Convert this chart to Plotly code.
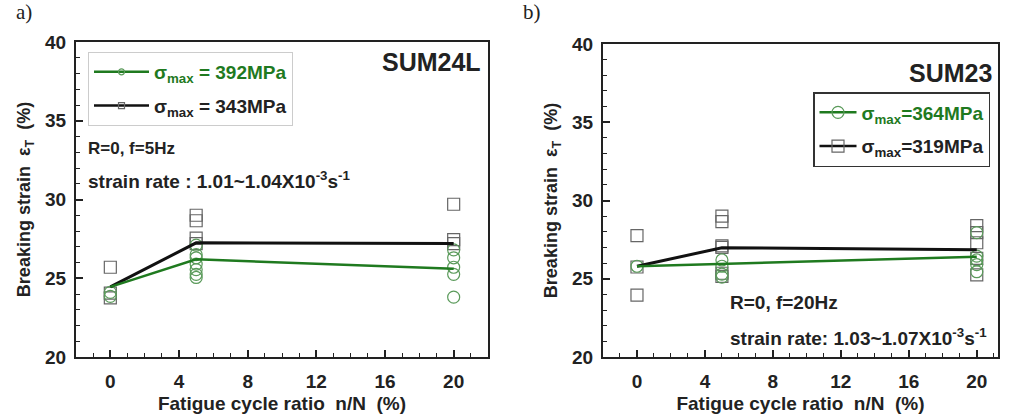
import plotly.graph_objects as go

# ---------------- data ----------------
x_levels = [0, 5, 20]

# panel a) SUM24L
a_mean_392 = [24.45, 26.2, 25.6]
a_mean_343 = [24.45, 27.25, 27.2]
a_c392_x = [0, 0, 5, 5, 5, 5, 5, 5, 5, 20, 20, 20, 20, 20]
a_c392_y = [24.1, 23.85, 27.1, 26.5, 26.3, 25.9, 25.55, 25.25, 25.05, 26.8, 26.3, 25.7, 25.25, 23.8]
a_s343_x = [0, 0, 0, 5, 5, 5, 5, 20, 20, 20]
a_s343_y = [25.7, 24.05, 23.75, 29.0, 28.65, 27.55, 27.2, 29.7, 27.45, 27.2]

# panel b) SUM23
b_mean_364 = [25.8, 25.95, 26.4]
b_mean_319 = [25.8, 26.98, 26.86]
b_c364_x = [0, 5, 5, 5, 5, 20, 20, 20, 20, 20]
b_c364_y = [25.8, 26.2, 25.8, 25.3, 25.1, 27.95, 26.45, 26.2, 25.9, 25.45]
b_s319_x = [0, 0, 0, 5, 5, 5, 5, 5, 5, 20, 20, 20, 20, 20]
b_s319_y = [27.75, 25.75, 23.95, 29.0, 28.65, 27.1, 27.0, 25.35, 25.15, 28.4, 27.95, 27.3, 26.3, 25.25]

x_ticks = [0, 4, 8, 12, 16, 20]
y_ticks = [20, 25, 30, 35, 40]

GREEN = "#1f7a1f"
GREEN_M = "#5a9a5a"
BLACK = "#111111"
GRAY_M = "#666666"
FONT = "Liberation Sans"
TXT = "#222222"

fig = go.Figure()

def add_panel(xa, ya, cx, cy, sx, sy, mg, mb, name_g, name_b, legend, leg_msize):
    fig.add_trace(go.Scatter(x=sx, y=sy, mode="markers", xaxis=xa, yaxis=ya, showlegend=False,
                             marker=dict(symbol="square-open", size=12, color=GRAY_M, line=dict(width=1.2))))
    fig.add_trace(go.Scatter(x=cx, y=cy, mode="markers", xaxis=xa, yaxis=ya, showlegend=False,
                             marker=dict(symbol="circle-open", size=12, color=GREEN_M, line=dict(width=1.2))))
    fig.add_trace(go.Scatter(x=x_levels, y=mb, mode="lines", xaxis=xa, yaxis=ya, showlegend=False,
                             line=dict(color=BLACK, width=3)))
    fig.add_trace(go.Scatter(x=x_levels, y=mg, mode="lines", xaxis=xa, yaxis=ya, showlegend=False,
                             line=dict(color=GREEN, width=2.5)))
    # legend entries
    fig.add_trace(go.Scatter(x=[None], y=[None], mode="lines+markers", xaxis=xa, yaxis=ya,
                             name=name_g, legend=legend, legendgroup=legend + "g",
                             line=dict(color=GREEN, width=2.5),
                             marker=dict(symbol="circle-open", size=leg_msize, color=GREEN_M, line=dict(width=1.2))))
    fig.add_trace(go.Scatter(x=[None], y=[None], mode="lines+markers", xaxis=xa, yaxis=ya,
                             name=name_b, legend=legend, legendgroup=legend + "b",
                             line=dict(color=BLACK, width=2.5),
                             marker=dict(symbol="square-open", size=leg_msize, color=GRAY_M, line=dict(width=1.2))))

add_panel("x", "y", a_c392_x, a_c392_y, a_s343_x, a_s343_y, a_mean_392, a_mean_343,
          "<span style='color:#1f7a1f'><b>σ<sub>max</sub> = 392MPa</b></span>",
          "<b>σ<sub>max</sub> = 343MPa</b>", "legend", 6)
add_panel("x2", "y2", b_c364_x, b_c364_y, b_s319_x, b_s319_y, b_mean_364, b_mean_319,
          "<span style='color:#1f7a1f'><b>σ<sub>max</sub>=364MPa</b></span>",
          "<b>σ<sub>max</sub>=319MPa</b>", "legend2", 12)

axis_common = dict(showline=True, linecolor="#222", linewidth=2, mirror=True, ticks="inside",
                   ticklen=7, tickwidth=1.5, tickcolor="#222", showgrid=False, zeroline=False,
                   automargin=False,
                   tickfont=dict(family=FONT, size=19, color=TXT))

xcommon = dict(axis_common, tickmode="array", tickvals=x_ticks,
               ticktext=[f"<b>{v}</b>" for v in x_ticks], ticklabelstandoff=6,
               minor=dict(ticks="inside", dtick=1, tick0=0, ticklen=4, tickwidth=1.2, tickcolor="#222"),
               title=dict(text="<b>Fatigue cycle ratio  n/N  (%)</b>", standoff=6,
                          font=dict(family=FONT, size=19, color=TXT)))
ycommon = dict(axis_common, tickmode="array", tickvals=y_ticks, range=[20, 40],
               ticktext=[f"<b>{v}</b>" for v in y_ticks], ticklabelstandoff=4,
               minor=dict(ticks="inside", dtick=1, tick0=20, ticklen=4, tickwidth=1.2, tickcolor="#222"),
               title=dict(text="<b>Breaking strain  ε<sub>T</sub>  (%)</b>", standoff=10,
                          font=dict(family=FONT, size=18, color=TXT)))

fig.update_layout(
    width=1016, height=416, margin=dict(l=0, r=0, t=0, b=0),
    paper_bgcolor="white", plot_bgcolor="white",
    font=dict(family=FONT, color=TXT),
    xaxis=dict(xcommon, domain=[76/1016, 488/1016], range=[-2, 22], anchor="y"),
    yaxis=dict(ycommon, domain=[59/416, 374/416], anchor="x"),
    xaxis2=dict(xcommon, domain=[603/1016, 998/1016], range=[-2, 21.25], anchor="y2"),
    yaxis2=dict(ycommon, domain=[59/416, 372/416], anchor="x2"),
    legend=dict(x=88/1016, y=1-52/416, xanchor="left", yanchor="top", bgcolor="white",
                bordercolor="#cccccc", borderwidth=1,
                font=dict(family=FONT, size=19, color=TXT),
                itemwidth=55, tracegroupgap=6, traceorder="grouped"),
    legend2=dict(x=813/1016, y=1-92/416, xanchor="left", yanchor="top", bgcolor="white",
                 bordercolor="#333333", borderwidth=1.5,
                 font=dict(family=FONT, size=19, color=TXT),
                 itemwidth=37, tracegroupgap=6, traceorder="grouped"),
    showlegend=True,
)

def ann(text, x, y, size=17, xanchor="left", family=FONT, bold=True, yanchor="middle"):
    fig.add_annotation(text=(f"<b>{text}</b>" if bold else text), x=x/1016, y=1-y/416,
                       xref="paper", yref="paper",
                       xanchor=xanchor, yanchor=yanchor, showarrow=False,
                       font=dict(family=family, size=size, color=TXT))

ann("a)", 14, 12, size=21, family="Liberation Serif", bold=False)
ann("b)", 521, 12, size=21, family="Liberation Serif", bold=False)
ann("SUM24L", 483, 62, size=25, xanchor="right")
ann("SUM23", 994, 73, size=25, xanchor="right")
ann("R=0, f=5Hz", 86, 148, size=17)
ann("strain rate : 1.01~1.04X10<sup>-3</sup>s<sup>-1</sup>", 86, 180, size=19)
ann("R=0, f=20Hz", 728, 302, size=19)
ann("strain rate: 1.03~1.07X10<sup>-3</sup>s<sup>-1</sup>", 728, 337, size=19)

fig.write_html("out.html")
